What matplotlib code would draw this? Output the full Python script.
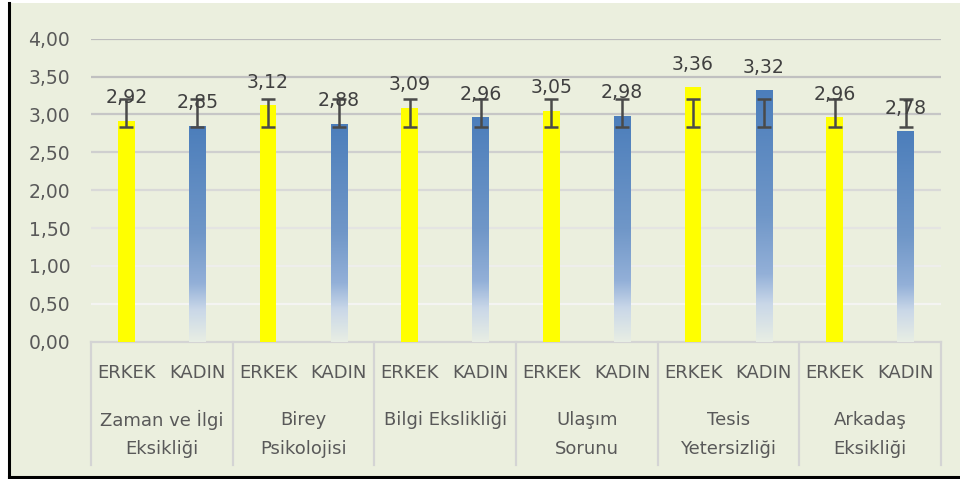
import numpy as np
import matplotlib
matplotlib.use("Agg")
import matplotlib.pyplot as plt
from matplotlib.patches import Rectangle
from matplotlib.lines import Line2D
from matplotlib.colors import LinearSegmentedColormap, to_rgb
from matplotlib.ticker import FuncFormatter
import matplotlib.transforms as mtransforms

plt.rcParams['font.family'] = ['DejaVu Sans']

categories = ["Zaman ve İlgi\nEksikliği", "Birey\nPsikolojisi", "Bilgi Ekslikliği",
              "Ulaşım\nSorunu", "Tesis\nYetersizliği", "Arkadaş\nEksikliği"]
series_names = ["ERKEK", "KADIN"]
erkek = [2.92, 3.12, 3.09, 3.05, 3.36, 2.96]
kadin = [2.85, 2.88, 2.96, 2.98, 3.32, 2.78]
err_center = 3.02   # error bars drawn around this level (as in the picture)
err_size = 0.18
yticks = [0.0, 0.5, 1.0, 1.5, 2.0, 2.5, 3.0, 3.5, 4.0]

BG = "#EBEFDE"
TXT = "#595959"
LBL = "#404040"

fig = plt.figure(figsize=(9.6, 4.79), dpi=100, facecolor="white")
# chart area background with black left/bottom border
fig.patches.append(Rectangle((10/960, 2/479), 950/960, 474/479, transform=fig.transFigure,
                             facecolor=BG, edgecolor="none", zorder=-10))
fig.lines.append(Line2D([9/960, 9/960], [2/479, 476/479], transform=fig.transFigure,
                        color="black", lw=2.2, zorder=-5))
fig.lines.append(Line2D([9/960, 1.0], [2/479, 2/479], transform=fig.transFigure,
                        color="black", lw=2.2, zorder=-5))

left, right = 91/960, 941/960
bottom, top = (479-341.7)/479, (479-38.7)/479
ax = fig.add_axes([left, bottom, right-left, top-bottom])
ax.set_facecolor("none")
ax.set_xlim(0, len(categories))
ax.set_ylim(0, 4)
for s in ax.spines.values():
    s.set_visible(False)

# gridlines (light at bottom, darker at top)
gcols = ["#d6d6d6", "#f4f4f2", "#eeeeec", "#e4e4e2", "#d9d9d8", "#cfcfcf", "#c6c6c6", "#c0c0c0", "#bcbcbc"]
for v, c in zip(yticks, gcols):
    if v == 0:
        continue
    ax.axhline(v, color=c, lw=1.6, zorder=1)
ax.axhline(0, color="#d4d4d4", lw=1.6, zorder=1, clip_on=False)

ax.set_yticks(yticks)
ax.yaxis.set_major_formatter(FuncFormatter(lambda v, p: f"{v:.2f}".replace(".", ",")))
ax.tick_params(axis="y", length=0, pad=15, labelsize=13.5, labelcolor=TXT)
ax.set_xticks([])

n = len(categories)
x = np.arange(n)
xe = x + 0.25
xk = x + 0.75
w = 0.118

ax.bar(xe, erkek, width=w, color="#FFFF00", zorder=2)

cmap = LinearSegmentedColormap.from_list("kadin", [
    (0.0, to_rgb("#E8EEE4")),
    (0.15, to_rgb("#C9D7E8")),
    (0.27, to_rgb("#93B0D8")),
    (0.5, to_rgb("#7097C8")),
    (1.0, to_rgb("#4C7EBB")),
])
grad = np.linspace(0, 1, 256).reshape(-1, 1)
bars_k = ax.bar(xk, kadin, width=w, color="none", zorder=2)
for b in bars_k:
    x0 = b.get_x()
    h = b.get_height()
    im = ax.imshow(grad, cmap=cmap, origin="lower", aspect="auto",
                   extent=[x0, x0 + w, 0, h], zorder=2, interpolation="bilinear")
    im.set_clip_path(b)
ax.set_xlim(0, n)
ax.set_ylim(0, 4)

# error bars
allx = np.concatenate([xe, xk])
ax.errorbar(allx, [err_center]*len(allx), yerr=err_size, fmt="none",
            ecolor="#4a4a4a", elinewidth=1.8, capsize=4.8, capthick=1.8, zorder=4)

# data labels
for xs, vals in ((xe, erkek), (xk, kadin)):
    for xi, v in zip(xs, vals):
        ax.annotate(f"{v:.2f}".replace(".", ","), (xi, v), xytext=(0, 12.6),
                    textcoords="offset points", ha="center", va="baseline",
                    fontsize=13.6, color=LBL, zorder=5)

# category axis (multi-level)
trans = mtransforms.blended_transform_factory(ax.transData, ax.transAxes)
sep_bottom = (341.7-465)/303
for i in range(n + 1):
    ax.add_line(Line2D([i, i], [0, sep_bottom], transform=trans, color="#d4d4d4",
                       lw=1.6, clip_on=False))
y_sub = (341.7-373)/303
y_l1 = (341.7-420)/303
y_l2 = (341.7-449)/303
for i, cat in enumerate(categories):
    ax.text(xe[i], y_sub, series_names[0], transform=trans, ha="center", va="center",
            fontsize=13, color=TXT)
    ax.text(xk[i], y_sub, series_names[1], transform=trans, ha="center", va="center",
            fontsize=13, color=TXT)
    lines = cat.split("\n")
    for j, ln in enumerate(lines):
        ax.text(i + 0.5, [y_l1, y_l2][j], ln, transform=trans, ha="center", va="center",
                fontsize=13, color=TXT)

fig.savefig("out.png", dpi=100, facecolor="white")
